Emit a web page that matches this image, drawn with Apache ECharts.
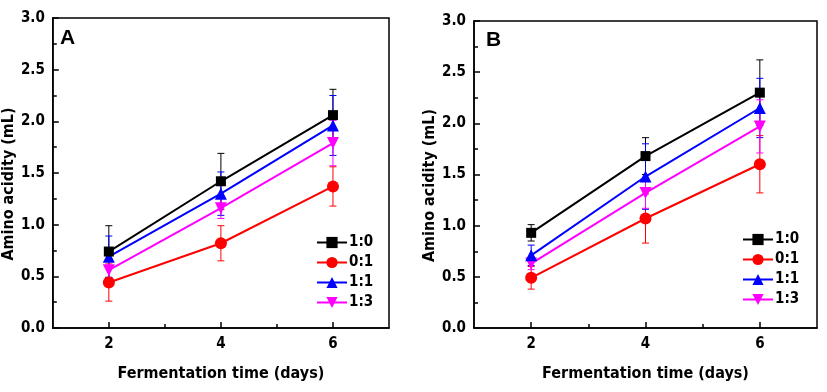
<!DOCTYPE html>
<html>
<head>
<meta charset="utf-8">
<script src="https://cdn.jsdelivr.net/npm/echarts@6/dist/echarts.min.js"></script>
<style>html,body{margin:0;padding:0;background:#fff;}#c{width:827px;height:392px;}</style>
</head>
<body>
<div id="c"></div>
<script>
var days = [2, 4, 6];
var seriesNames = ['1:0', '0:1', '1:1', '1:3'];
var colors = ['#000000', '#ff0000', '#0000ff', '#ff00ff'];
var xTicks = [2, 4, 6];
var xMinorTicks = [3, 5];
var panelLabels = ['A', 'B'];

// Panel A
var A_10 = [0.74, 1.42, 2.06];
var A_01 = [0.44, 0.82, 1.37];
var A_11 = [0.69, 1.30, 1.96];
var A_13 = [0.56, 1.16, 1.79];
var A_10_err = [0.25, 0.27, 0.25];
var A_01_err = [0.18, 0.17, 0.19];
var A_11_err = [0.20, 0.21, 0.29];
var A_13_err = [0.10, 0.10, 0.22];

// Panel B
var B_10 = [0.93, 1.68, 2.30];
var B_01 = [0.49, 1.07, 1.60];
var B_11 = [0.71, 1.48, 2.15];
var B_13 = [0.63, 1.32, 1.97];
var B_10_err = [0.08, 0.18, 0.32];
var B_01_err = [0.11, 0.24, 0.28];
var B_11_err = [0.10, 0.32, 0.29];
var B_13_err = [0.06, 0.15, 0.26];

var panels = [
  {vals: [A_10, A_01, A_11, A_13], errs: [A_10_err, A_01_err, A_11_err, A_13_err]},
  {vals: [B_10, B_01, B_11, B_13], errs: [B_10_err, B_01_err, B_11_err, B_13_err]}
];

var symbols = ['rect', 'circle', 'triangle', 'triangle'];
var symbolSizes = [10, 12, 12, 12];
var symbolRotates = [0, 0, 0, 180];

var FONT = '"Liberation Sans Narrow", "DejaVu Sans Condensed", "Liberation Sans", Arial, sans-serif';

var grids = [
  {left: 50, top: 18, width: 339, height: 310},
  {left: 474, top: 21, width: 343, height: 307}
];

var option = {
  animation: false,
  backgroundColor: '#ffffff',
  textStyle: {fontFamily: FONT},
  title: panelLabels.map(function (t, i) {
    return {text: t, left: i === 0 ? 60 : 486, top: i === 0 ? 28 : 30, padding: 0,
      textStyle: {fontFamily: 'Liberation Sans, Arial, sans-serif', fontWeight: 'bold', fontSize: 21, color: '#000'}};
  }),
  grid: grids.map(function (g) {
    return Object.assign({show: true, borderColor: '#000', borderWidth: 1.5, backgroundColor: 'transparent', containLabel: false}, g);
  }),
  legend: [
    {left: 316, top: 235},
    {left: 742, top: 232}
  ].map(function (p) {
    return {
      data: seriesNames, orient: 'vertical', left: p.left, top: p.top, padding: 0,
      itemWidth: 30, itemHeight: 14, itemGap: 5, selectedMode: false,
      textStyle: {fontFamily: FONT, fontWeight: 'bold', fontSize: 15, color: '#000', padding: [0, 0, 0, -3]}
    };
  }),
  xAxis: [],
  yAxis: [],
  series: []
};

grids.forEach(function (g, gi) {
  option.xAxis.push({
    type: 'value', gridIndex: gi, min: 1, max: 7,
    name: 'Fermentation time (days)', nameLocation: 'middle', nameGap: 38,
    nameTextStyle: {fontFamily: FONT, fontWeight: 'bold', fontSize: 16, color: '#000'},
    axisLine: {show: true, onZero: false, lineStyle: {color: '#000', width: 1.5}},
    axisTick: {show: true, inside: true, length: 6, customValues: xTicks, lineStyle: {color: '#000', width: 1.5}},
    axisLabel: {customValues: xTicks, margin: 9, fontFamily: FONT, fontWeight: 'bold', fontSize: 15, color: '#000'},
    splitLine: {show: false}
  });
  option.xAxis.push({
    type: 'value', gridIndex: gi, min: 1, max: 7, position: 'bottom',
    axisLine: {show: false, onZero: false},
    axisTick: {show: true, inside: true, length: 4, customValues: xMinorTicks, lineStyle: {color: '#000', width: 1.5}},
    axisLabel: {show: false},
    splitLine: {show: false}
  });
  option.yAxis.push({
    type: 'value', gridIndex: gi, min: 0, max: 3, interval: 0.5,
    name: 'Amino acidity (mL)', nameLocation: 'middle', nameGap: 33,
    nameTextStyle: {fontFamily: FONT, fontWeight: 'bold', fontSize: 16, color: '#000', padding: [0, 22, 0, 0]},
    axisLine: {show: true, lineStyle: {color: '#000', width: 1.5}},
    axisTick: {show: true, inside: true, length: 6, lineStyle: {color: '#000', width: 1.5}},
    minorTick: {show: true, splitNumber: 2, length: 4, lineStyle: {color: '#000', width: 1.5}},
    axisLabel: {formatter: function (v) { return v.toFixed(1); }, margin: 8, fontFamily: FONT, fontWeight: 'bold', fontSize: 15, color: '#000'},
    splitLine: {show: false}
  });

  var p = panels[gi];
  // error bars
  seriesNames.forEach(function (nm, si) {
    var d = days.map(function (x, k) { return [x, p.vals[si][k], p.errs[si][k]]; });
    option.series.push({
      type: 'custom', name: 'err' + gi + '_' + si, xAxisIndex: gi * 2, yAxisIndex: gi,
      z: 1, silent: true,
      data: d,
      encode: {x: 0, y: [1]},
      renderItem: function (params, api) {
        var x = api.value(0), y = api.value(1), e = api.value(2);
        var top = api.coord([x, y + e]);
        var bot = api.coord([x, y - e]);
        var hw = 3.5;
        var st = {stroke: colors[si], lineWidth: 1};
        return {type: 'group', children: [
          {type: 'line', shape: {x1: top[0], y1: top[1], x2: bot[0], y2: bot[1]}, style: st},
          {type: 'line', shape: {x1: top[0] - hw, y1: top[1], x2: top[0] + hw, y2: top[1]}, style: st},
          {type: 'line', shape: {x1: bot[0] - hw, y1: bot[1], x2: bot[0] + hw, y2: bot[1]}, style: st}
        ]};
      }
    });
  });
  // lines
  seriesNames.forEach(function (nm, si) {
    option.series.push({
      type: 'line', name: nm, xAxisIndex: gi * 2, yAxisIndex: gi,
      z: 3 + (3 - si),
      data: days.map(function (x, k) { return [x, p.vals[si][k]]; }),
      symbol: symbols[si], symbolSize: symbolSizes[si], symbolRotate: symbolRotates[si],
      showAllSymbol: true,
      lineStyle: {color: colors[si], width: 2},
      itemStyle: {color: colors[si], borderWidth: 0},
      emphasis: {disabled: true}
    });
  });
});

var chart = echarts.init(document.getElementById('c'), null, {renderer: 'canvas'});
chart.setOption(option);
</script>
</body>
</html>
